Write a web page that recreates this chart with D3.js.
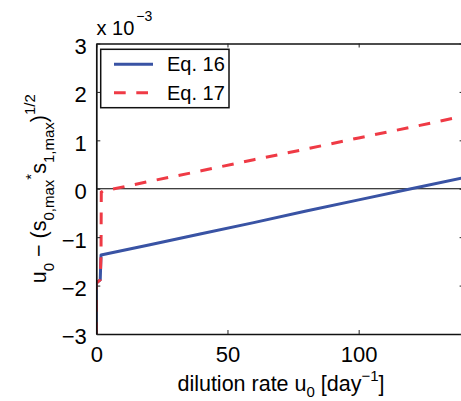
<!DOCTYPE html>
<html>
<head>
<meta charset="utf-8">
<script src="https://cdn.jsdelivr.net/npm/d3@7"></script>
<style>
  html, body { margin: 0; padding: 0; background: #fff; }
  svg { display: block; font-family: "Liberation Sans", Arial, Helvetica, sans-serif; }
</style>
</head>
<body>
<svg id="chart" width="461" height="401"></svg>
<script>
// Dilution rate u0 [day^-1]
const eq16U = [0, 0, 1.5, 1.8, 20, 40, 60, 80, 100, 120, 140];
// u0 - (s0,max * s1,max)^(1/2), in units of 1e-3
const eq16V = [-3, -1.95, -1.88, -1.37, -1.16, -0.93, -0.70, -0.46, -0.23, 0.0, 0.23];

const eq17U = [0, 0, 1.5, 1.8, 1.9, 3, 6, 20, 40, 60, 80, 100, 120, 140];
const eq17V = [-3, -1.95, -1.88, -1.37, -0.07, -0.03, -0.01, 0.15, 0.37, 0.60, 0.82, 1.05, 1.27, 1.50];

const seriesNames = ["Eq. 16", "Eq. 17"];
const xTickValues = [0, 50, 100];
const yTickValues = [-3, -2, -1, 0, 1, 2, 3];

const blue = "#3953a4";
const red = "#ef3a45";

const svg = d3.select("#chart");
const plotLeft = 96.3, plotRight = 463.6, plotTop = 43.5, plotBottom = 334;

const x = d3.scaleLinear().domain([0, 140]).range([plotLeft, plotRight]);
const y = d3.scaleLinear().domain([-3, 3]).range([plotBottom, plotTop]);

const minus = s => String(s).replace("-", "\u2212");

// clip for the data area
svg.append("defs").append("clipPath").attr("id", "plotClip")
  .append("rect").attr("x", plotLeft).attr("y", plotTop)
  .attr("width", plotRight - plotLeft).attr("height", plotBottom - plotTop);

// zero reference line
svg.append("line")
  .attr("x1", x(0)).attr("x2", x(140))
  .attr("y1", y(0)).attr("y2", y(0))
  .attr("stroke", "#000").attr("stroke-width", 1.1);

const line = d3.line().x(d => x(d[0])).y(d => y(d[1]));
const eq16 = eq16U.map((u, i) => [u, eq16V[i]]);
const eq17 = eq17U.map((u, i) => [u, eq17V[i]]);

const g = svg.append("g").attr("clip-path", "url(#plotClip)");
g.append("path").datum(eq16).attr("d", line)
  .attr("fill", "none").attr("stroke", blue).attr("stroke-width", 3)
  .attr("stroke-linejoin", "round");
g.append("path").datum(eq17).attr("d", line)
  .attr("fill", "none").attr("stroke", red).attr("stroke-width", 3)
  .attr("stroke-dasharray", "11.7,10.6");

// axes with inward ticks on all four sides
const tickLen = 4;
const axisStyle = sel => {
  sel.select(".domain").attr("stroke", "#111").attr("stroke-width", 1.7);
  sel.selectAll(".tick line").attr("stroke", "#222").attr("stroke-width", 1);
};

const xb = svg.append("g").attr("transform", `translate(0,${plotBottom})`)
  .call(d3.axisBottom(x).tickValues(xTickValues).tickSizeInner(-tickLen).tickSizeOuter(0).tickPadding(12.4).tickFormat(minus));
axisStyle(xb);
xb.selectAll(".tick text").attr("font-size", 22).attr("fill", "#000")
  .attr("font-family", "Liberation Sans, Arial, sans-serif").attr("dy", "0.71em");

const xt = svg.append("g").attr("transform", `translate(0,${plotTop})`)
  .call(d3.axisTop(x).tickValues(xTickValues).tickSizeInner(-tickLen).tickSizeOuter(0).tickFormat(""));
axisStyle(xt);

const yl = svg.append("g").attr("transform", `translate(${plotLeft},0)`)
  .call(d3.axisLeft(y).tickValues(yTickValues).tickSizeInner(-tickLen).tickSizeOuter(0).tickPadding(9.5).tickFormat(minus));
axisStyle(yl);
yl.selectAll(".tick text").attr("font-size", 22).attr("fill", "#000")
  .attr("font-family", "Liberation Sans, Arial, sans-serif").attr("dy", "0.45em");

const yr = svg.append("g").attr("transform", `translate(${plotRight},0)`)
  .call(d3.axisRight(y).tickValues(yTickValues).tickSizeInner(-tickLen).tickSizeOuter(0).tickFormat(""));
axisStyle(yr);

// exponent label above the y axis
const expo = svg.append("text").attr("x", 96.5).attr("y", 35).attr("font-size", 20);
expo.append("tspan").text("x 10");
expo.append("tspan").attr("font-size", 14).attr("dx", 2).attr("dy", -14).text("\u22123");

// x axis title
const xlab = svg.append("text").attr("x", 281).attr("y", 391)
  .attr("text-anchor", "middle").attr("font-size", 21.5);
xlab.append("tspan").text("dilution rate u");
xlab.append("tspan").attr("font-size", 15).attr("dy", 6).text("0");
xlab.append("tspan").attr("dy", -6).text(" [day");
xlab.append("tspan").attr("font-size", 15).attr("dy", -10).text("\u22121");
xlab.append("tspan").attr("dy", 10).text("]");

// y axis title
const ylab = svg.append("text")
  .attr("transform", `translate(46,${(plotTop + plotBottom) / 2}) rotate(-90)`)
  .attr("text-anchor", "middle").attr("font-size", 21.5);
ylab.append("tspan").text("u");
ylab.append("tspan").attr("font-size", 15).attr("dy", 8).text("0");
ylab.append("tspan").attr("dy", -8).text(" \u2212 (s");
ylab.append("tspan").attr("font-size", 15).attr("dy", 8).text("0,max");
ylab.append("tspan").attr("font-size", 15).attr("dy", -18).text("*");
ylab.append("tspan").attr("dy", 10).text("s");
ylab.append("tspan").attr("font-size", 15).attr("dy", 8).text("1,max");
ylab.append("tspan").attr("dy", -8).text(")");
ylab.append("tspan").attr("font-size", 15).attr("dy", -11).text("1/2");

// legend
const lg = svg.append("g").attr("transform", "translate(100.7,49.3)");
lg.append("rect").attr("width", 128.3).attr("height", 58.4)
  .attr("fill", "#fff").attr("stroke", "#111").attr("stroke-width", 1.5);
const colors = [blue, red];
const dashes = [null, "11.7,10.6"];
seriesNames.forEach((name, i) => {
  const cy = 15 + i * 28.4;
  lg.append("line").attr("x1", 13.3).attr("x2", 52.3).attr("y1", cy).attr("y2", cy)
    .attr("stroke", colors[i]).attr("stroke-width", 3)
    .attr("stroke-dasharray", dashes[i]);
  lg.append("text").attr("x", 66.3).attr("y", cy + 7).attr("font-size", 20).text(name);
});
</script>
</body>
</html>
